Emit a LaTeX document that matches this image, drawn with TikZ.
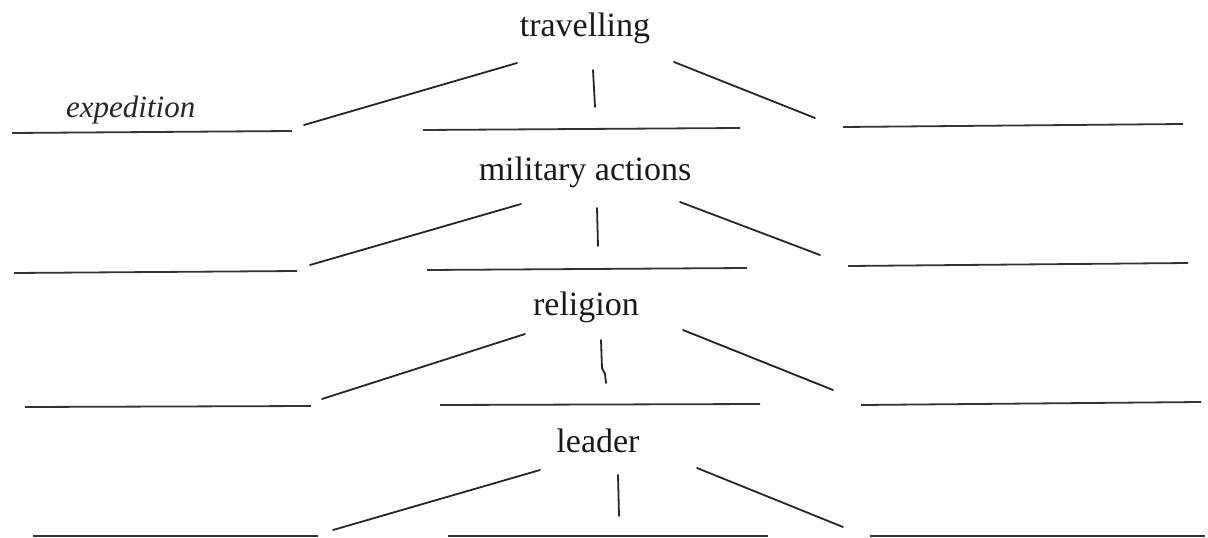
\documentclass[tikz,border=0pt]{standalone}
\usepackage{fontspec}
\setmainfont{Liberation Serif}
\begin{document}
\begin{tikzpicture}[x=1pt,y=-1pt,
  word/.style={font=\fontsize{34}{37}\selectfont, text=black!90, anchor=base, inner sep=0pt},
  answer/.style={font=\itshape\fontsize{31}{34}\selectfont, text=black!85, anchor=base west, inner sep=0pt},
  blank/.style={draw=black!80, line width=1.8pt},
  spoke/.style={draw=black!85, line width=1.8pt, line cap=round}]
\useasboundingbox (0,0) rectangle (1208,538);

% --- travelling ---
\node[word] (w1) at (585,36) {travelling};
\node[answer] (a1) at (66,117) {expedition};
\coordinate (l1a) at (12,133);  \coordinate (l1b) at (292,131);
\coordinate (m1a) at (423,130); \coordinate (m1b) at (740,128);
\coordinate (r1a) at (843,127); \coordinate (r1b) at (1183,124);
\coordinate (d1a) at (517,63);  \coordinate (d1b) at (304,125);
\coordinate (v1a) at (593,70);  \coordinate (v1b) at (595,107);
\coordinate (e1a) at (674,62);  \coordinate (e1b) at (815,118);
\draw[blank] (l1a) -- (l1b);
\draw[blank] (m1a) -- (m1b);
\draw[blank] (r1a) -- (r1b);
\draw[spoke] (d1a) -- (d1b);
\draw[spoke] (v1a) -- (v1b);
\draw[spoke] (e1a) -- (e1b);

% --- military actions ---
\node[word] (w2) at (585,180) {military actions};
\coordinate (l2a) at (14,273);  \coordinate (l2b) at (297,271);
\coordinate (m2a) at (427,270); \coordinate (m2b) at (747,268);
\coordinate (r2a) at (848,266); \coordinate (r2b) at (1188,263);
\coordinate (d2a) at (521,204); \coordinate (d2b) at (310,265);
\coordinate (v2a) at (597,208); \coordinate (v2b) at (598,246);
\coordinate (e2a) at (680,202); \coordinate (e2b) at (820,255);
\draw[blank] (l2a) -- (l2b);
\draw[blank] (m2a) -- (m2b);
\draw[blank] (r2a) -- (r2b);
\draw[spoke] (d2a) -- (d2b);
\draw[spoke] (v2a) -- (v2b);
\draw[spoke] (e2a) -- (e2b);

% --- religion ---
\node[word] (w3) at (586,315) {religion};
\coordinate (l3a) at (25,407);  \coordinate (l3b) at (311,406);
\coordinate (m3a) at (440,405); \coordinate (m3b) at (760,404);
\coordinate (r3a) at (861,405); \coordinate (r3b) at (1201,402);
\coordinate (d3a) at (525,334); \coordinate (d3b) at (322,399);
\coordinate (v3a) at (601,340); \coordinate (v3m) at (602,368);
\coordinate (v3n) at (605,374); \coordinate (v3b) at (606,383);
\coordinate (e3a) at (683,330); \coordinate (e3b) at (833,390);
\draw[blank] (l3a) -- (l3b);
\draw[blank] (m3a) -- (m3b);
\draw[blank] (r3a) -- (r3b);
\draw[spoke] (d3a) -- (d3b);
\draw[spoke] (v3a) -- (v3m) -- (v3n) -- (v3b);
\draw[spoke] (e3a) -- (e3b);

% --- leader ---
\node[word] (w4) at (598,452) {leader};
\coordinate (l4a) at (33,536);  \coordinate (l4b) at (318,536);
\coordinate (m4a) at (448,536); \coordinate (m4b) at (768,536);
\coordinate (r4a) at (870,536); \coordinate (r4b) at (1205,536);
\coordinate (d4a) at (540,470); \coordinate (d4b) at (333,530);
\coordinate (v4a) at (618,475); \coordinate (v4b) at (619,516);
\coordinate (e4a) at (697,468); \coordinate (e4b) at (843,527);
\draw[blank] (l4a) -- (l4b);
\draw[blank] (m4a) -- (m4b);
\draw[blank] (r4a) -- (r4b);
\draw[spoke] (d4a) -- (d4b);
\draw[spoke] (v4a) -- (v4b);
\draw[spoke] (e4a) -- (e4b);
\end{tikzpicture}
\end{document}
